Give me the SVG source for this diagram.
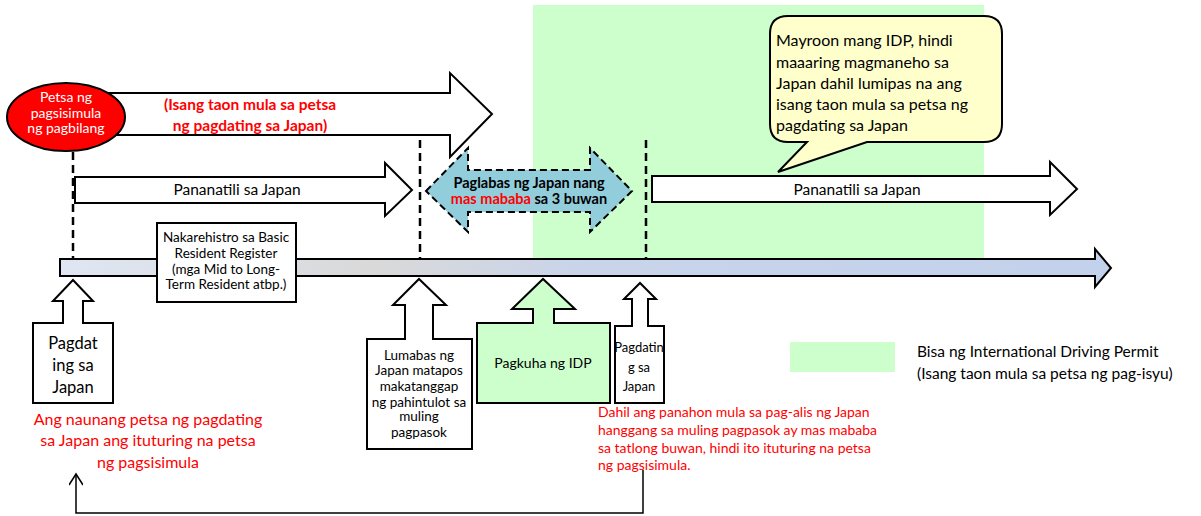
<svg xmlns="http://www.w3.org/2000/svg" width="1201" height="516" viewBox="0 0 1201 516">
<style>
text{font-family:Lato,"Open Sans","Liberation Sans",sans-serif;fill:#000}
.shape{fill:#fff;stroke:#000;stroke-width:2}
.dash{stroke:#000;stroke-width:2.5;stroke-dasharray:8 5;fill:none}
.red{fill:#ff0000}
.b{font-weight:bold}
.c{text-anchor:middle}
</style>
<defs>
<linearGradient id="tl" x1="60" y1="0" x2="1111" y2="0" gradientUnits="userSpaceOnUse">
<stop offset="0" stop-color="#dfe6f3"/>
<stop offset="0.3" stop-color="#d9d9d9"/>
<stop offset="0.5" stop-color="#c9d4ea"/>
<stop offset="1" stop-color="#c2d1ec"/>
</linearGradient>
<marker id="open" markerWidth="14" markerHeight="14" refX="12" refY="7" orient="auto" markerUnits="userSpaceOnUse">
<path d="M1,0 L12,7 L1,14" fill="none" stroke="#000" stroke-width="1.5"/>
</marker>
</defs>
<rect width="1201" height="516" fill="#fff"/>
<rect id="idp-validity" x="533" y="5" width="451" height="256" fill="#ccffcc"/>

<g id="connectors">
<line class="dash" x1="73" y1="152" x2="73" y2="259"/>
<line class="dash" x1="420" y1="140" x2="420" y2="258"/>
<line class="dash" x1="646" y1="140" x2="646" y2="258"/>
<path d="M643,470 V513 H76 V474" fill="none" stroke="#000" stroke-width="1.5" marker-end="url(#open)"/>
</g>

<g id="year-arrow">
<path class="shape" d="M100,93 H450 V73 L492,114 L450,157 V135 H100 Z"/>
<text class="red b c" x="250" y="110" font-size="15.5">(Isang taon mula sa petsa</text>
<text class="red b c" x="250" y="131" font-size="15.5">ng pagdating sa Japan)</text>
</g>

<g id="start-date">
<ellipse cx="66" cy="117" rx="59" ry="34" fill="#ff0000" stroke="#000" stroke-width="2"/>
<text class="c" x="66" y="102" font-size="14" style="fill:#fff">Petsa ng</text>
<text class="c" x="66" y="118" font-size="14" style="fill:#fff">pagsisimula</text>
<text class="c" x="66" y="133" font-size="14" style="fill:#fff">ng pagbilang</text>
</g>

<g id="stay1">
<path class="shape" d="M75,177 H385 V163 L412,190 L385,216 V203 H75 Z"/>
<text class="c" x="237" y="195" font-size="15.5">Pananatili sa Japan</text>
</g>

<g id="leave">
<path d="M426,191 L468,148 V170 H590 V148 L632,191 L590,232 V212 H468 V232 Z" fill="#92cddc" stroke="#000" stroke-width="2" stroke-dasharray="7 4"/>
<text class="b c" x="529" y="188" font-size="14.5">Paglabas ng Japan nang</text>
<text class="b c" x="529" y="204" font-size="14.5"><tspan class="red">mas mababa</tspan> sa 3 buwan</text>
</g>

<g id="stay2">
<path class="shape" d="M652,176 H1050 V162 L1077,189 L1050,215 V202 H652 Z"/>
<text class="c" x="857" y="195" font-size="15.5">Pananatili sa Japan</text>
</g>

<g id="callout">
<path d="M788,16 H984 Q1002,16 1002,34 V124 Q1002,142 984,142 H867 L778,172 L807,142 H788 Q770,142 770,124 V34 Q770,16 788,16 Z" fill="#ffffcc" stroke="#000" stroke-width="2"/>
<text x="776" y="46" font-size="16">Mayroon mang IDP, hindi</text>
<text x="776" y="68" font-size="16">maaaring magmaneho sa</text>
<text x="776" y="89" font-size="16">Japan dahil lumipas na ang</text>
<text x="776" y="110" font-size="16">isang taon mula sa petsa ng</text>
<text x="776" y="131" font-size="16">pagdating sa Japan</text>
</g>

<g id="timeline">
<path d="M60,259 H1095 V249 L1111,268 L1095,287 V276 H60 Z" fill="url(#tl)" stroke="#000" stroke-width="2"/>
</g>

<g id="registered">
<rect class="shape" x="157" y="223" width="139" height="79"/>
<text class="c" x="226" y="242" font-size="13.5">Nakarehistro sa Basic</text>
<text class="c" x="226" y="258" font-size="13.5">Resident Register</text>
<text class="c" x="226" y="274" font-size="13.5">(mga Mid to Long-</text>
<text class="c" x="226" y="289" font-size="13.5">Term Resident atbp.)</text>
</g>

<g id="arrival1">
<path class="shape" d="M33,323 H63 V301 H53 L73,280 L93,301 H83 V323 H113 V403 H33 Z"/>
<text class="c" x="73" y="349" font-size="16.5">Pagdat</text>
<text class="c" x="73" y="371" font-size="16.5">ing sa</text>
<text class="c" x="73" y="393" font-size="16.5">Japan</text>
</g>

<g id="note-left">
<text class="red c" x="148" y="425" font-size="16">Ang naunang petsa ng pagdating</text>
<text class="red c" x="148" y="446" font-size="16">sa Japan ang ituturing na petsa</text>
<text class="red c" x="148" y="468" font-size="16">ng pagsisimula</text>
</g>

<g id="departure">
<path class="shape" d="M367,339 H405 V305 H393 L419,279 L446,305 H433 V339 H472 V449 H367 Z"/>
<text class="c" x="419" y="360" font-size="13.5">Lumabas ng</text>
<text class="c" x="419" y="375" font-size="13.5">Japan matapos</text>
<text class="c" x="419" y="391" font-size="13.5">makatanggap</text>
<text class="c" x="419" y="407" font-size="13.5">ng pahintulot sa</text>
<text class="c" x="419" y="421" font-size="13.5">muling</text>
<text class="c" x="419" y="437" font-size="13.5">pagpasok</text>
</g>

<g id="get-idp">
<path d="M477,323 H533 V309 H512 L543,279 L575,309 H554 V323 H610 V403 H477 Z" fill="#ccffcc" stroke="#000" stroke-width="2"/>
<text class="c" x="543" y="368" font-size="14">Pagkuha ng IDP</text>
</g>

<g id="arrival2">
<path class="shape" d="M615,326 H632 V299 H624 L640,283 L656,299 H648 V326 H664 V403 H615 Z"/>
<text class="c" x="639" y="352" font-size="13">Pagdatin</text>
<text class="c" x="639" y="372" font-size="13">g sa</text>
<text class="c" x="639" y="391" font-size="13">Japan</text>
</g>

<g id="note-right">
<text class="red" x="598" y="417" font-size="14">Dahil ang panahon mula sa pag-alis ng Japan</text>
<text class="red" x="598" y="435" font-size="14">hanggang sa muling pagpasok ay mas mababa</text>
<text class="red" x="598" y="453" font-size="14">sa tatlong buwan, hindi ito ituturing na petsa</text>
<text class="red" x="598" y="470" font-size="14">ng pagsisimula.</text>
</g>

<g id="legend">
<rect x="790" y="342" width="105" height="30" fill="#ccffcc"/>
<text x="917" y="357" font-size="15.5">Bisa ng International Driving Permit</text>
<text x="917" y="379" font-size="15.5">(Isang taon mula sa petsa ng pag-isyu)</text>
</g>
</svg>
